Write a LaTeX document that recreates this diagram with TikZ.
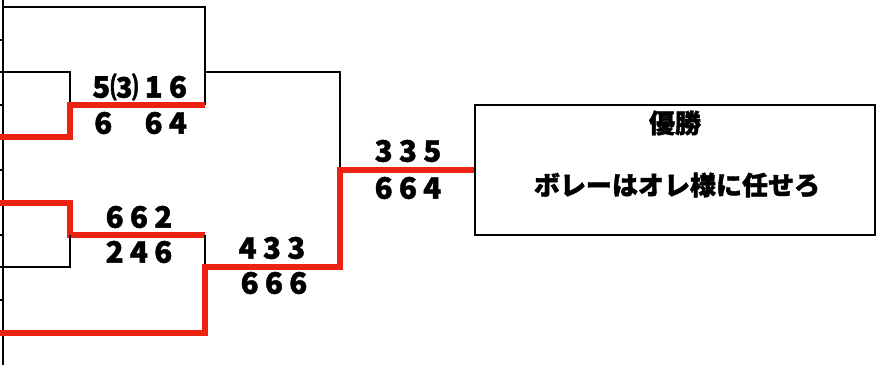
\documentclass[tikz,border=0pt]{standalone}
\usepackage{fontspec}
\newfontfamily\jpfont{Noto Sans CJK JP}[BoldFeatures={FakeBold=1.5}]
\definecolor{winred}{RGB}{236,34,18}
\newcommand\digsep{\hspace{4.5pt}}
\begin{document}
\begin{tikzpicture}[x=0.025cm,y=-0.025cm,
		bline/.style={line width=1.4pt, black},
		win/.style={line width=3.6pt, winred},
		score/.style={font=\jpfont\bfseries\fontsize{21}{21}\selectfont, inner sep=0pt},
		jptext/.style={font=\jpfont\bfseries\fontsize{18.5}{18.5}\selectfont, inner sep=0pt}]
		\useasboundingbox (0,0) rectangle (880,365);
		
		\node[draw, line width=1.4pt, minimum width=10cm, minimum height=3.25cm] (champ) at (675,170){};
		\node[jptext] (title) at (675,123){優勝};
		\node[jptext] (team) at (677,185){ボレーはオレ様に任せろ};
		
		\draw[bline] (3,0) -- (3,365);
		\foreach \y in {40, 105, 170, 235, 300}{
			\draw[bline] (0, \y)--(3, \y);
		}
		
		\draw[bline] (3,7) -- (205,7) -- (205,105);
		\draw[bline] (0,72) -- (70,72) -- (70,105);
		\draw[bline] (205,72) -- (340,72) -- (340,170);
		\draw[win] (0,137) -- (70,137) -- (70,105) -- (205,105);
		
		\draw[win] (0,203) -- (70,203) -- (70,235) -- (205,235);
		\draw[bline] (0,267) -- (70,267) -- (70,235);
		\draw[bline] (205,235) -- (205,267);
		\draw[win] (0,333) -- (205,333) -- (205,267) -- (340,267) -- (340,170) -- (champ.west);
		
		\node[score, anchor=west] (m1a) at (92,87){5{\fontsize{20}{20}\selectfont ⑶}\digsep 1\digsep 6};
		\node[score, anchor=west] (m1b) at (94,123){6\hspace{23pt}6\digsep 4};
		\node[score] (m2a) at (139,217){6\digsep 6\digsep 2};
		\node[score] (m2b) at (139,252){2\digsep 4\digsep 6};
		\node[score] (m3a) at (272,248){4\digsep 3\digsep 3};
		\node[score] (m3b) at (274,283){6\digsep 6\digsep 6};
		\node[score] (m4a) at (408,151){3\digsep 3\digsep 5};
		\node[score] (m4b) at (408,188){6\digsep 6\digsep 4};
	\end{tikzpicture}
\end{document}
